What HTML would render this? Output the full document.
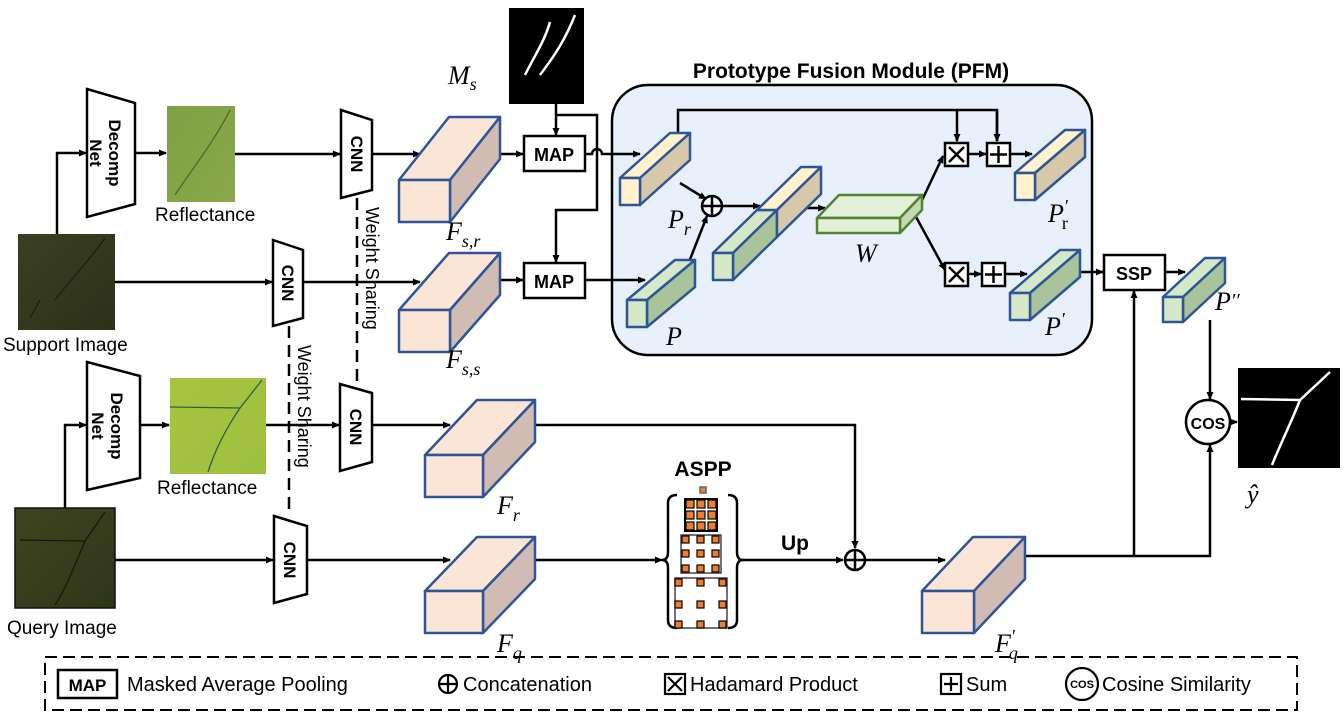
<!DOCTYPE html>
<html><head><meta charset="utf-8"><style>
html,body{margin:0;padding:0;background:#fff;}
svg{display:block;}
text{font-family:"Liberation Sans","DejaVu Sans",sans-serif;}
g.it text, text.it{font-family:"Liberation Serif","DejaVu Serif",serif;font-style:italic;}
</style></head><body>
<svg width="1344" height="720" viewBox="0 0 1344 720" xmlns="http://www.w3.org/2000/svg">
<defs>
<marker id="a" markerWidth="8" markerHeight="8" refX="7" refY="4" orient="auto" markerUnits="userSpaceOnUse"><path d="M0,0.5 L8,4 L0,7.5 z" fill="#000"/></marker>
<linearGradient id="gS" x1="0" y1="0" x2="1" y2="1"><stop offset="0" stop-color="#3a3f25"/><stop offset="1" stop-color="#2c3119"/></linearGradient>
<linearGradient id="gR1" x1="0" y1="0" x2="1" y2="1"><stop offset="0" stop-color="#7fa043"/><stop offset="1" stop-color="#8aa84a"/></linearGradient>
<linearGradient id="gR2" x1="0" y1="0" x2="1" y2="1"><stop offset="0" stop-color="#a8c43e"/><stop offset="1" stop-color="#9dc040"/></linearGradient>
<linearGradient id="gQ" x1="0" y1="0" x2="1" y2="1"><stop offset="0" stop-color="#3e4520"/><stop offset="1" stop-color="#2f3518"/></linearGradient>
</defs>
<g fill="none" stroke="#000" stroke-width="2.5">
<rect x="612" y="85" width="480" height="270" rx="36" fill="#e8f0fb" stroke-width="2.5"/>
</g>
<text x="851" y="78" font-size="21" font-weight="bold" text-anchor="middle">Prototype Fusion Module (PFM)</text>

<!-- images -->
<rect x="18" y="234" width="97" height="96" fill="url(#gS)"/>
<path d="M105,238 C90,260 70,280 55,300 M40,300 L30,318" stroke="#1a1d10" stroke-width="1.2" fill="none"/>
<rect x="167" y="106" width="68" height="96" fill="url(#gR1)"/>
<path d="M230,110 C215,140 195,165 175,195" stroke="#3f6a2a" stroke-width="1.2" fill="none"/>
<rect x="170" y="378" width="96" height="96" fill="url(#gR2)"/>
<path d="M170,407 L240,408 L262,380 M240,408 C225,430 215,450 208,472" stroke="#2f5f4a" stroke-width="1.3" fill="none"/>
<rect x="15" y="508" width="100" height="100" fill="url(#gQ)" stroke="#111" stroke-width="1.5"/>
<path d="M20,540 L85,541 L105,512 M85,541 C75,565 65,590 55,605" stroke="#15180a" stroke-width="1.3" fill="none"/>
<rect x="509" y="8" width="75" height="96" fill="#000"/>
<path d="M550,22 C545,40 535,55 525,75 M575,15 C565,40 555,55 540,75" stroke="#fff" stroke-width="2.5" fill="none"/>
<rect x="1238" y="368" width="102" height="100" fill="#000"/>
<path d="M1241,399 L1300,400 L1330,372 M1300,400 C1290,425 1280,445 1272,465" stroke="#fff" stroke-width="2.5" fill="none"/>

<g fill="#fff" stroke="#000" stroke-width="2.5">
<polygon points="87,89 135,103 135,204 87,217"/>
<polygon points="87,362 140,376 140,478 87,490"/>
<polygon points="341,110 372,120 372,190 341,198"/>
<polygon points="273,240 303,250 303,318 273,326"/>
<polygon points="340,384 372,393 372,462 340,471"/>
<polygon points="274,516 307,526 307,594 274,603"/>
<rect x="524" y="136" width="61" height="35"/>
<rect x="524" y="263" width="61" height="35"/>
<rect x="1104" y="255" width="61" height="35"/>
<circle cx="1208" cy="422" r="22"/>
</g>
<g font-weight="bold" font-size="17" text-anchor="middle">
<text transform="translate(107,153) rotate(90)" y="-2">Decomp</text>
<text transform="translate(107,153) rotate(90)" y="17">Net</text>
<text transform="translate(109,426) rotate(90)" y="-2">Decomp</text>
<text transform="translate(109,426) rotate(90)" y="17">Net</text>
<text transform="translate(357,154) rotate(90)" y="6">CNN</text>
<text transform="translate(288,283) rotate(90)" y="6">CNN</text>
<text transform="translate(356,427) rotate(90)" y="6">CNN</text>
<text transform="translate(290,560) rotate(90)" y="6">CNN</text>
<text x="554" y="161" font-size="18">MAP</text>
<text x="554" y="288" font-size="18">MAP</text>
<text x="1134" y="280" font-size="18">SSP</text>
<text x="1208" y="429" font-size="16">COS</text>
<text x="703" y="476" font-size="21">ASPP</text>
<text x="795" y="550" font-size="21">Up</text>
</g>
<g font-size="19">
<text x="3" y="351">Support Image</text>
<text x="155" y="221">Reflectance</text>
<text x="157" y="494">Reflectance</text>
<text x="7" y="634">Query Image</text>
<text transform="translate(366,207) rotate(90)" font-size="18">Weight Sharing</text>
<text transform="translate(298,345) rotate(90)" font-size="18">Weight Sharing</text>
</g>

<g fill="none" stroke="#000" stroke-width="2.5">
<path d="M57,234 V153 H86" marker-end="url(#a)"/>
<path d="M135,153 H166" marker-end="url(#a)"/>
<path d="M235,154 H340" marker-end="url(#a)"/>
<path d="M372,154 H420" marker-end="url(#a)"/>
<path d="M500,154 H523" marker-end="url(#a)"/>
<path d="M585,154 H592 A5,5 0 0 1 602,154 H640" marker-end="url(#a)"/>
<path d="M556,104 V135" marker-end="url(#a)"/>
<path d="M556,115 H597 V210 H556 V262" marker-end="url(#a)"/>
<path d="M115,282 H272" marker-end="url(#a)"/>
<path d="M303,282 H420" marker-end="url(#a)"/>
<path d="M500,280 H523" marker-end="url(#a)"/>
<path d="M585,280 H645" marker-end="url(#a)"/>
<path d="M65,508 V425 H86" marker-end="url(#a)"/>
<path d="M140,425 H169" marker-end="url(#a)"/>
<path d="M266,425 H339" marker-end="url(#a)"/>
<path d="M372,425 H450" marker-end="url(#a)"/>
<path d="M115,560 H273" marker-end="url(#a)"/>
<path d="M307,560 H450" marker-end="url(#a)"/>
<path d="M535,425 H855 V548" marker-end="url(#a)"/>
<path d="M535,560 H662" marker-end="url(#a)"/>
<path d="M739,560 H843" marker-end="url(#a)"/>
<path d="M866,560 H945" marker-end="url(#a)"/>
<path d="M1025,556 H1210 V445" marker-end="url(#a)"/>
<path d="M1134,556 V291" marker-end="url(#a)"/>
<path d="M1080,272 H1103" marker-end="url(#a)"/>
<path d="M1165,272 H1185" marker-end="url(#a)"/>
<path d="M1210,320 V399" marker-end="url(#a)"/>
<path d="M1230,422 H1237" marker-end="url(#a)"/>
<path d="M357,198 V384 M289,326 V516" stroke-dasharray="12,7"/>
<path d="M678,133 V110 H997 V141" />
<path d="M957,110 V141" marker-end="url(#a)"/>
<path d="M997,110 V141" marker-end="url(#a)"/>
<path d="M680,183 L706,199" marker-end="url(#a)"/>
<path d="M680,285 L707,216" marker-end="url(#a)"/>
<path d="M723,206 H760" marker-end="url(#a)"/>
<path d="M802,208 H825" marker-end="url(#a)"/>
<path d="M915,215 L943,156" marker-end="url(#a)"/>
<path d="M915,215 L945,270" marker-end="url(#a)"/>
<path d="M968,154 H986" marker-end="url(#a)"/>
<path d="M1010,154 H1032" marker-end="url(#a)"/>
<path d="M968,274 H981" marker-end="url(#a)"/>
<path d="M1005,274 H1027" marker-end="url(#a)"/>
<circle cx="712" cy="206" r="10" fill="#fff"/>
<path d="M702,206 H722 M712,196 V216"/>
<circle cx="855" cy="560" r="10" fill="#fff"/>
<path d="M845,560 H865 M855,550 V570"/>
<rect x="945" y="143" width="23" height="23" fill="#fff"/>
<path d="M949,147 L964,162 M964,147 L949,162"/>
<rect x="987" y="143" width="23" height="23" fill="#fff"/>
<path d="M990,154.5 H1007 M998.5,146 V163"/>
<rect x="945" y="263" width="23" height="23" fill="#fff"/>
<path d="M949,267 L964,282 M964,267 L949,282"/>
<rect x="982" y="263" width="23" height="23" fill="#fff"/>
<path d="M985,274.5 H1002 M993.5,266 V283"/>
<path d="M677,495 Q668,495 668,503 V552 Q668,560 662,560 Q668,560 668,568 V620 Q668,628 677,628"/>
<path d="M728,495 Q737,495 737,503 V552 Q737,560 743,560 Q737,560 737,568 V620 Q737,628 728,628"/>
</g>

<g stroke="#2f5597" stroke-width="2.5" stroke-linejoin="round">
<polygon points="399,180 449,117 500,117 450,180" fill="#fbe5d6"/>
<polygon points="450,180 500,117 500,159 450,222" fill="#d0bcb2"/>
<rect x="399" y="180" width="51" height="42" fill="#fbe5d6"/>
<polygon points="399,310 449,253 500,253 450,310" fill="#fbe5d6"/>
<polygon points="450,310 500,253 500,295 450,352" fill="#d0bcb2"/>
<rect x="399" y="310" width="51" height="42" fill="#fbe5d6"/>
<polygon points="425,455 477,400 535,400 483,455" fill="#fbe5d6"/>
<polygon points="483,455 535,400 535,442 483,497" fill="#d0bcb2"/>
<rect x="425" y="455" width="58" height="42" fill="#fbe5d6"/>
<polygon points="425,591 477,537 535,537 483,591" fill="#fbe5d6"/>
<polygon points="483,591 535,537 535,579 483,633" fill="#d0bcb2"/>
<rect x="425" y="591" width="58" height="42" fill="#fbe5d6"/>
<polygon points="922,591 973,537 1025,537 974,591" fill="#fbe5d6"/>
<polygon points="974,591 1025,537 1025,579 974,633" fill="#d0bcb2"/>
<rect x="922" y="591" width="52" height="42" fill="#fbe5d6"/>
<polygon points="620,178 670,133 690,133 640,178" fill="#fff2cc"/>
<polygon points="640,178 690,133 690,160 640,205" fill="#d6c8a8"/>
<rect x="620" y="178" width="20" height="27" fill="#fff2cc"/>
<polygon points="627,300 675,260 695,260 647,300" fill="#d5e8c8"/>
<polygon points="647,300 695,260 695,287 647,327" fill="#a9c49a"/>
<rect x="627" y="300" width="20" height="27" fill="#d5e8c8"/>
<polygon points="713,253 757,210 777,210 733,253" fill="#d5e8c8"/>
<polygon points="733,253 777,210 777,237 733,280" fill="#a9c49a"/>
<rect x="713" y="253" width="20" height="27" fill="#d5e8c8"/>
<polygon points="757,210 801,167 821,167 777,210" fill="#fff2cc"/>
<polygon points="777,210 821,167 821,194 777,237" fill="#d6c8a8"/>
<polygon points="1015,173 1065,130 1085,130 1035,173" fill="#fff2cc"/>
<polygon points="1035,173 1085,130 1085,157 1035,200" fill="#d6c8a8"/>
<rect x="1015" y="173" width="20" height="27" fill="#fff2cc"/>
<polygon points="1010,293 1060,250 1080,250 1030,293" fill="#d5e8c8"/>
<polygon points="1030,293 1080,250 1080,277 1030,320" fill="#a9c49a"/>
<rect x="1010" y="293" width="20" height="27" fill="#d5e8c8"/>
<polygon points="1163,297 1205,258 1225,258 1183,297" fill="#d5e8c8"/>
<polygon points="1183,297 1225,258 1225,283 1183,322" fill="#a9c49a"/>
<rect x="1163" y="297" width="20" height="25" fill="#d5e8c8"/>
</g>
<g stroke="#548235" stroke-width="2.5" stroke-linejoin="round">
<polygon points="817,218 839,195 922,195 900,218" fill="#e2f0d9"/>
<polygon points="900,218 922,195 922,210 900,233" fill="#c5d8b8"/>
<rect x="817" y="218" width="83" height="15" fill="#e2f0d9"/>
</g>

<g fill="#ed7d31" stroke="#000" stroke-width="1.5">
<rect x="700" y="487" width="6" height="6" fill="#ed7d31" stroke="#666"/>
<rect x="685" y="499" width="32" height="32" fill="#fff" stroke="#000" stroke-width="2"/>
<rect x="681" y="535" width="40" height="38" fill="#fff" stroke="#445" stroke-width="1.5"/>
<rect x="675" y="578" width="52" height="50" fill="#fff" stroke="#445" stroke-width="1.5"/>
</g>
<g fill="#ed7d31" stroke="#000" stroke-width="1.2">
<rect x="686" y="500" width="8" height="8"/><rect x="697" y="500" width="8" height="8"/><rect x="708" y="500" width="8" height="8"/>
<rect x="686" y="511" width="8" height="8"/><rect x="697" y="511" width="8" height="8"/><rect x="708" y="511" width="8" height="8"/>
<rect x="686" y="522" width="8" height="8"/><rect x="697" y="522" width="8" height="8"/><rect x="708" y="522" width="8" height="8"/>
<rect x="682" y="536" width="7" height="7"/><rect x="697" y="536" width="7" height="7"/><rect x="712" y="536" width="7" height="7"/>
<rect x="682" y="550" width="7" height="7"/><rect x="697" y="550" width="7" height="7"/><rect x="712" y="550" width="7" height="7"/>
<rect x="682" y="565" width="7" height="7"/><rect x="697" y="565" width="7" height="7"/><rect x="712" y="565" width="7" height="7"/>
<rect x="675" y="579" width="7" height="7"/><rect x="697" y="579" width="7" height="7"/><rect x="719" y="579" width="7" height="7"/>
<rect x="675" y="601" width="7" height="7"/><rect x="697" y="601" width="7" height="7"/><rect x="719" y="601" width="7" height="7"/>
<rect x="675" y="621" width="7" height="7"/><rect x="697" y="621" width="7" height="7"/><rect x="719" y="621" width="7" height="7"/>
</g>

<g class="it" font-size="26">
<text x="448" y="84">M<tspan font-size="18" dy="6">s</tspan></text>
<text x="446" y="240">F<tspan font-size="18" dy="7">s,r</tspan></text>
<text x="446" y="368">F<tspan font-size="18" dy="7">s,s</tspan></text>
<text x="497" y="514">F<tspan font-size="18" dy="7">r</tspan></text>
<text x="497" y="652">F<tspan font-size="18" dy="7">q</tspan></text>
<text x="995" y="652">F<tspan font-size="18" dy="-10">′</tspan><tspan font-size="18" dx="-6" dy="17">q</tspan></text>
<text x="668" y="228">P<tspan font-size="18" dy="7">r</tspan></text>
<text x="666" y="345">P</text>
<text x="855" y="262">W</text>
<text x="1048" y="222">P<tspan font-size="18" dy="-10">′</tspan><tspan font-size="18" dx="-6" dy="17" font-style="normal">r</tspan></text>
<text x="1045" y="335">P<tspan font-size="18" dy="-10">′</tspan></text>
<text x="1215" y="310">P<tspan font-size="20" dy="-3">′′</tspan></text>
<text x="1247" y="503">ŷ</text>
</g>

<rect x="45" y="657" width="1252" height="53" fill="none" stroke="#000" stroke-width="2" stroke-dasharray="12,6"/>
<rect x="58" y="670" width="59" height="28" fill="#fff" stroke="#000" stroke-width="2.5"/>
<text x="87.5" y="691" font-size="17" font-weight="bold" text-anchor="middle">MAP</text>
<g font-size="20">
<text x="127" y="691">Masked Average Pooling</text>
<text x="463" y="691">Concatenation</text>
<text x="690" y="691">Hadamard Product</text>
<text x="966" y="691">Sum</text>
<text x="1102" y="691">Cosine Similarity</text>
</g>
<g fill="none" stroke="#000" stroke-width="2.2">
<circle cx="448" cy="684" r="9"/><path d="M439,684 H457 M448,675 V693"/>
<rect x="665" y="674" width="20" height="20"/><path d="M668,677 L682,691 M682,677 L668,691"/>
<rect x="941" y="674" width="20" height="20"/><path d="M944,684 H958 M951,677 V691"/>
<circle cx="1082" cy="684" r="16"/>
</g>
<text x="1082" y="688" font-size="11" font-weight="bold" text-anchor="middle">COS</text>
</svg>
</body></html>
